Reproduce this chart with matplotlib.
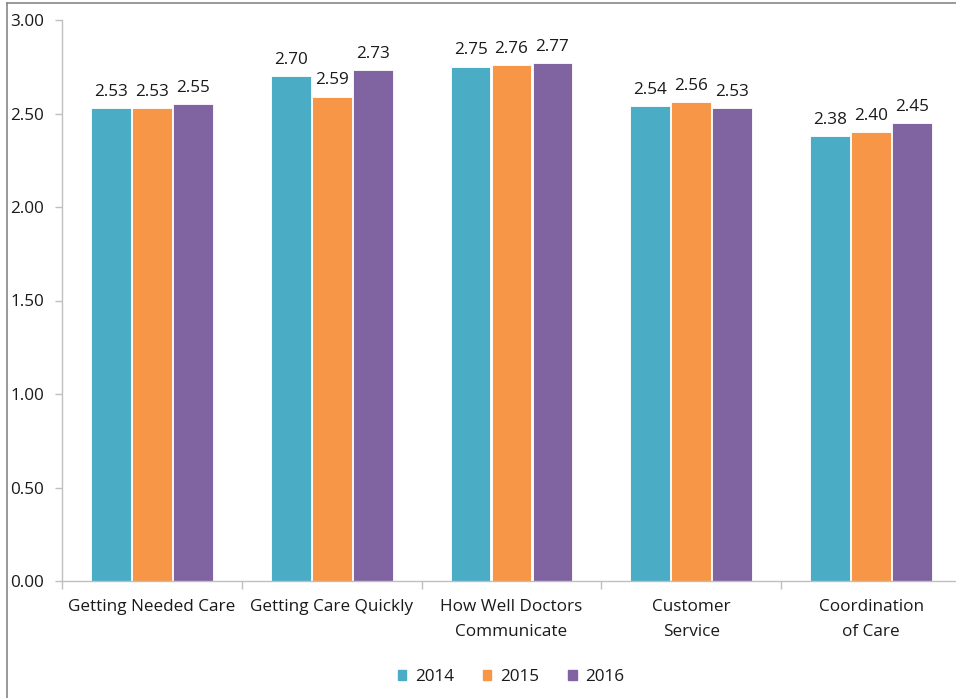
import matplotlib
matplotlib.use("Agg")
import matplotlib.pyplot as plt
from matplotlib.lines import Line2D
from matplotlib.ticker import FixedLocator, FuncFormatter
import numpy as np

categories = ["Getting Needed Care", "Getting Care Quickly", "How Well Doctors\nCommunicate",
              "Customer\nService", "Coordination\nof Care"]
years = ["2014", "2015", "2016"]
v2014 = [2.53, 2.70, 2.75, 2.54, 2.38]
v2015 = [2.53, 2.59, 2.76, 2.56, 2.40]
v2016 = [2.55, 2.73, 2.77, 2.53, 2.45]
series = [v2014, v2015, v2016]
colors = ["#4BACC6", "#F79646", "#8064A2"]

plt.rcParams['font.family'] = ['Open Sans', 'DejaVu Sans']
FS = 12.3
TXT = "#1a1a1a"

fig = plt.figure(figsize=(9.56, 6.98), dpi=100)
ax = fig.add_axes([62/956, 1-581/698, (961-62)/956, (581-20)/698])

x = np.arange(len(categories))
w = 0.222
step = 0.228
for i, (vals, c, yr) in enumerate(zip(series, colors, years)):
    bars = ax.bar(x + (i-1)*step, vals, width=w, color=c, edgecolor="white", linewidth=0.6, label=yr)
    for b, v in zip(bars, vals):
        ax.annotate(f"{v:.2f}", (b.get_x()+b.get_width()/2, v), xytext=(0, 6),
                    textcoords="offset points", ha="center", va="bottom", fontsize=FS, color=TXT)

ax.set_xlim(-0.5, len(categories)-0.5)
ax.set_ylim(0, 3.0)
ax.set_yticks(np.arange(0, 3.01, 0.5))
ax.yaxis.set_major_formatter(FuncFormatter(lambda v, p: f"{v:.2f}"))
ax.set_xticks(x)
ax.set_xticklabels(categories, fontsize=FS, color=TXT, linespacing=1.75)
ax.xaxis.set_minor_locator(FixedLocator(np.arange(-0.5, len(categories), 1.0)))
ax.tick_params(axis='x', which='major', length=0, pad=13)
ax.tick_params(axis='x', which='minor', length=6, color="#BFBFBF", width=1)
ax.tick_params(axis='y', length=5, color="#BFBFBF", width=1, labelsize=FS, labelcolor=TXT)
for lab in ax.get_yticklabels():
    lab.set_horizontalalignment('left')
ax.tick_params(axis='y', pad=32)

for s in ["top", "right"]:
    ax.spines[s].set_visible(False)
for s in ["left", "bottom"]:
    ax.spines[s].set_color("#BFBFBF")
    ax.spines[s].set_linewidth(1)

handles = [plt.Rectangle((0, 0), 1, 1, color=c) for c in colors]
leg = fig.legend(handles, years, loc="center", bbox_to_anchor=(511/956, 1-677/698), ncol=3,
                 frameon=False, fontsize=FS, handlelength=0.5, handleheight=0.5,
                 columnspacing=1.7, handletextpad=0.5)
for t in leg.get_texts():
    t.set_color(TXT)

# outer frame
fig.add_artist(Line2D([7/956, 7/956], [0, 1-3/698], transform=fig.transFigure, color="#888888", lw=1.2))
fig.add_artist(Line2D([7/956, 1], [1-3/698, 1-3/698], transform=fig.transFigure, color="#888888", lw=1.2))

fig.savefig("out.png", dpi=100)
